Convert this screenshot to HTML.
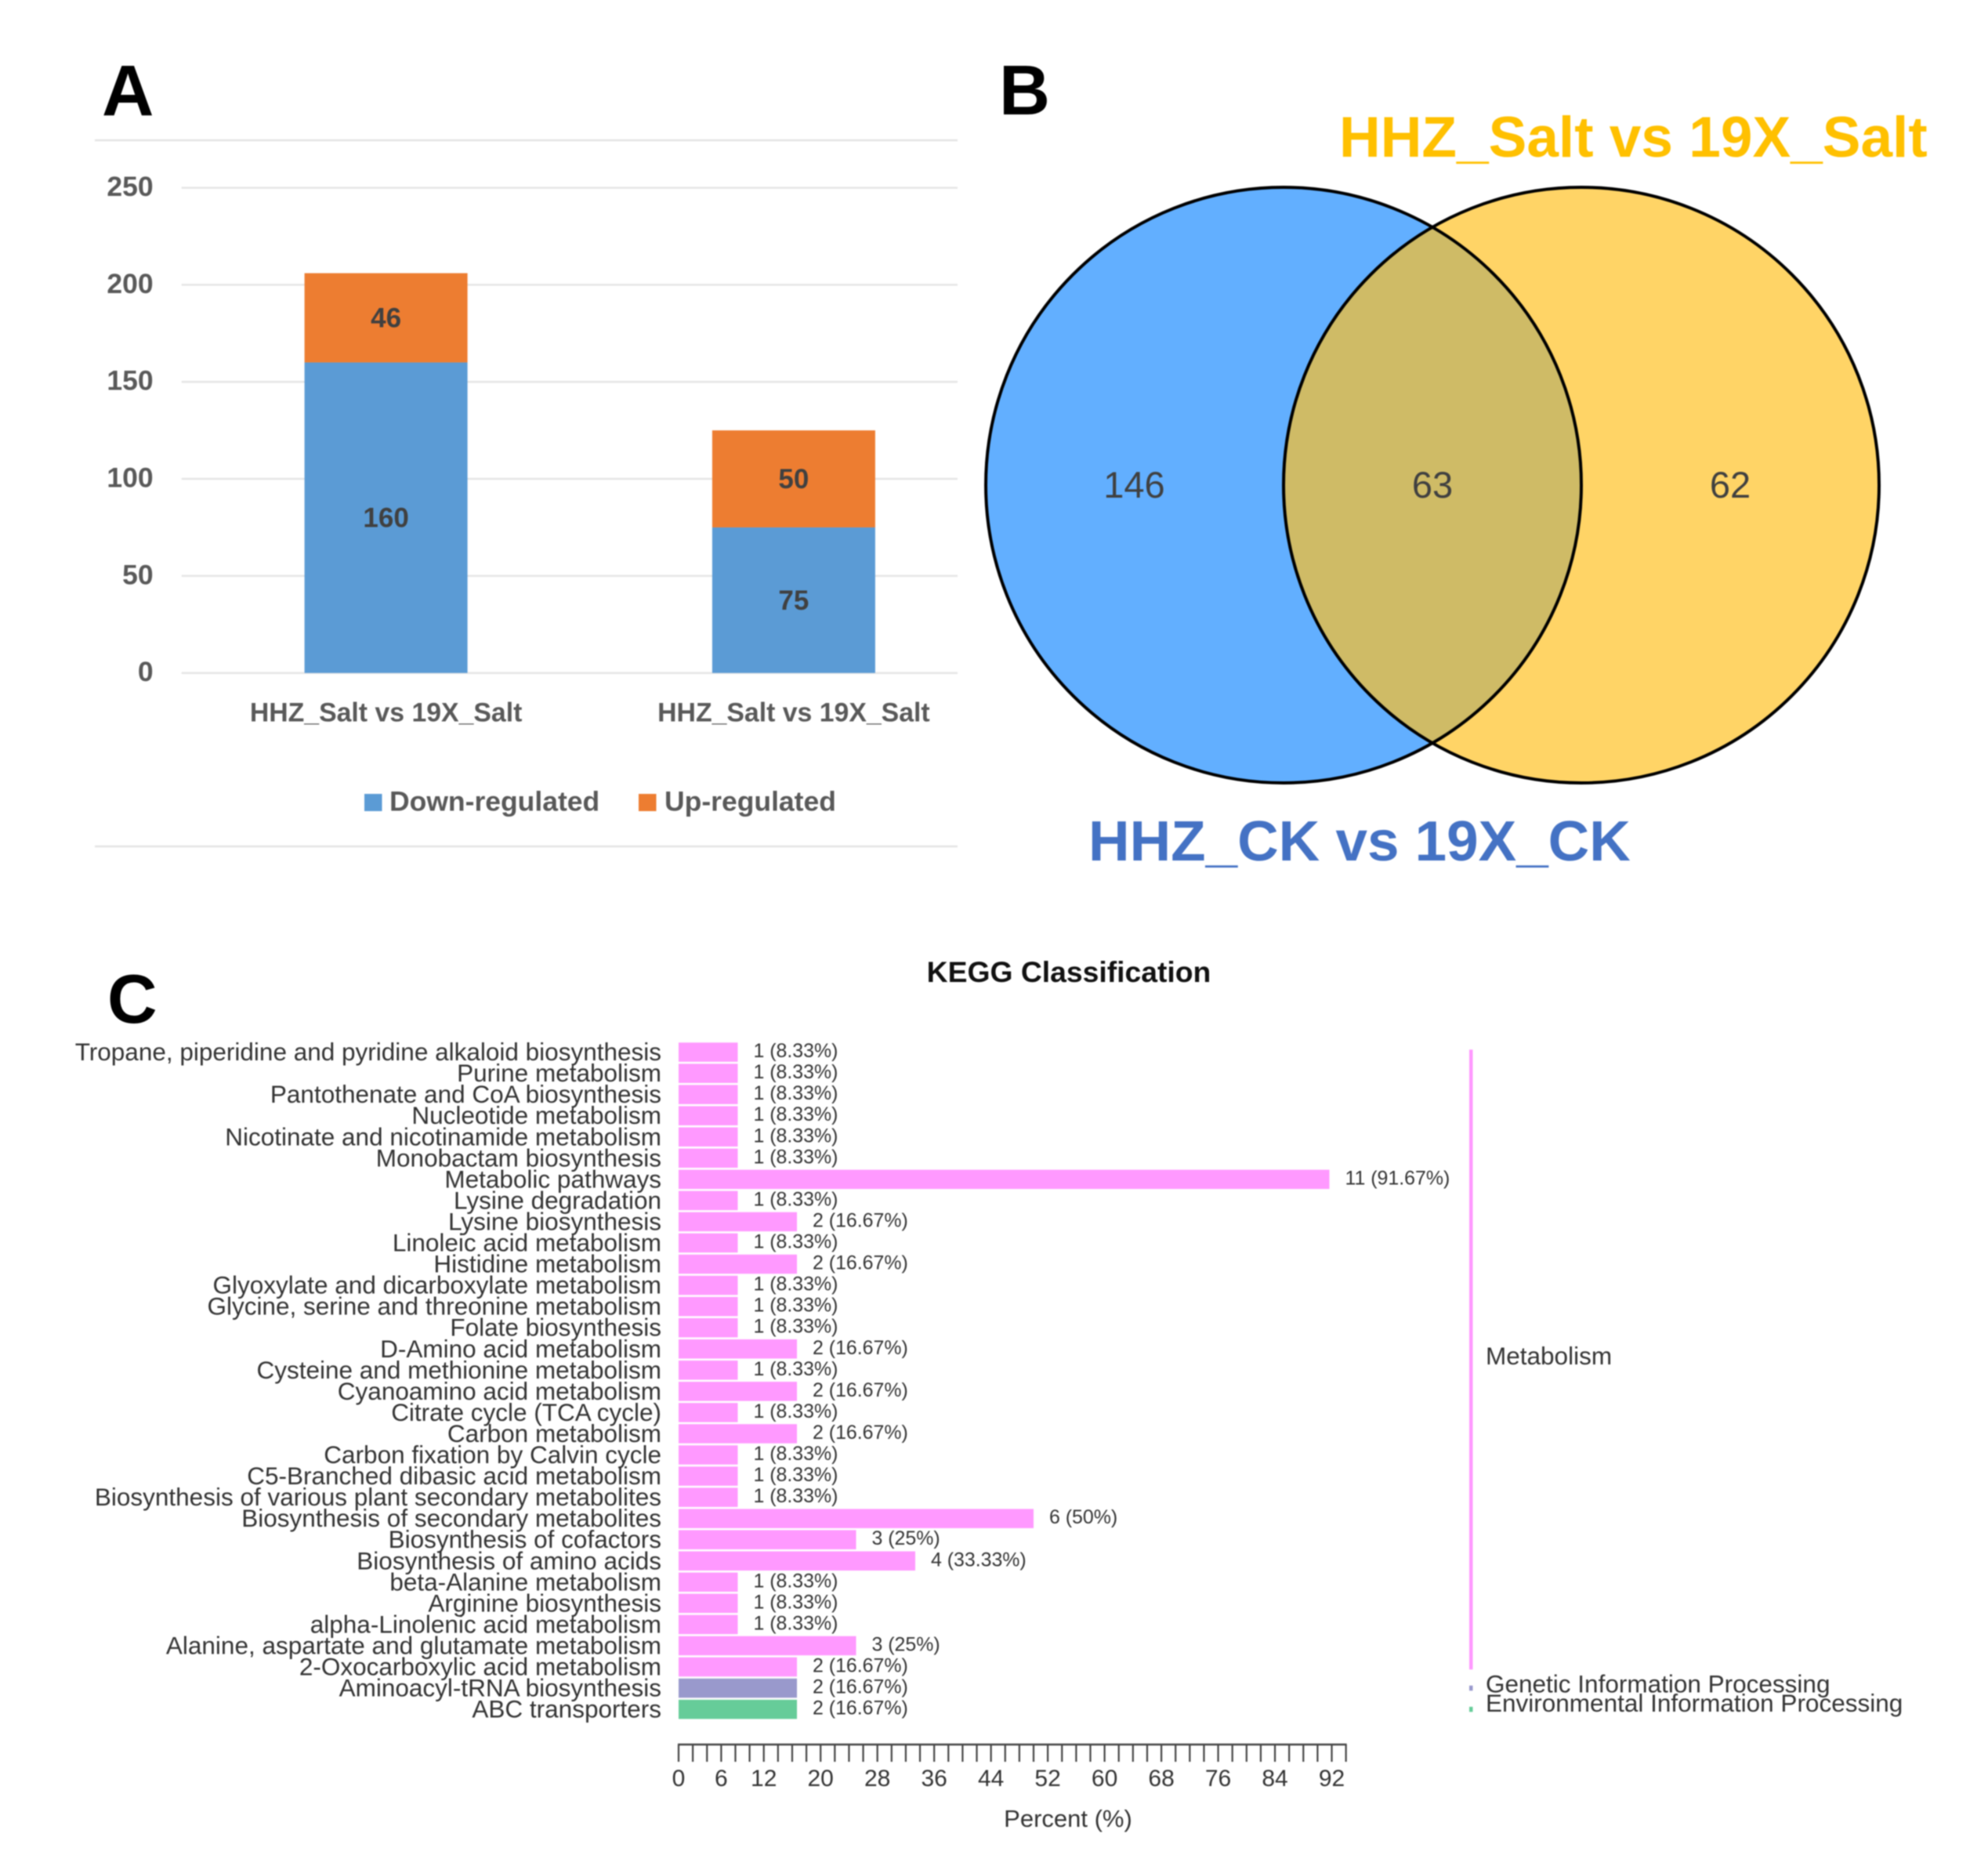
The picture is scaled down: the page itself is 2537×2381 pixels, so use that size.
<!DOCTYPE html>
<html lang="en">
<head>
<meta charset="utf-8">
<title>Panels A, B and C: DEG counts, Venn diagram and KEGG classification</title>
<style>
  html, body { margin: 0; padding: 0; background: #fff; }
  #figure { display: block; filter: blur(0.85px); font-family: "Liberation Sans", sans-serif; }
</style>
</head>
<body>
<svg id="figure" xmlns="http://www.w3.org/2000/svg" width="2537" height="2381" viewBox="0 0 2537 2381">
  <rect x="0" y="0" width="2537" height="2381" fill="#ffffff"/>

  <text x="130" y="147" font-size="92" font-weight="bold" fill="#000">A</text>
  <text x="1275" y="146" font-size="90" font-weight="bold" fill="#000">B</text>
  <text x="137" y="1305" font-size="88" font-weight="bold" fill="#000">C</text>

  <g id="chart-a">
    <line x1="121" y1="179" x2="1222" y2="179" stroke="#e4e4e4" stroke-width="2.5"/>
    <line x1="121" y1="1080" x2="1222" y2="1080" stroke="#e4e4e4" stroke-width="2.5"/>
  </g>

  <g id="chart-b">
    <circle cx="1638" cy="619" r="380" fill="#62afff"/>
    <circle cx="2018" cy="619" r="380" fill="#ffd466"/>
    <path d="M1828 289.9 A380 380 0 0 1 1828 948.1 A380 380 0 0 1 1828 289.9 Z" fill="#cfbb66"/>
    <circle cx="1638" cy="619" r="380" fill="none" stroke="#000" stroke-width="4"/>
    <circle cx="2018" cy="619" r="380" fill="none" stroke="#000" stroke-width="4"/>
    <text x="1447.5" y="635" font-size="47" text-anchor="middle" fill="#404040">146</text>
    <text x="1828" y="635" font-size="47" text-anchor="middle" fill="#404040">63</text>
    <text x="2208" y="635" font-size="47" text-anchor="middle" fill="#404040">62</text>
    <text x="1709" y="200" font-size="73" font-weight="bold" fill="#ffc000">HHZ_Salt vs 19X_Salt</text>
    <text x="1389" y="1098" font-size="72.8" font-weight="bold" fill="#4472c4">HHZ_CK vs 19X_CK</text>
  </g>

  <g id="chart-c">
    <text x="1364" y="1253" font-size="37.3" font-weight="bold" text-anchor="middle" fill="#111">KEGG Classification</text>
    <text x="1363" y="2331" font-size="31" text-anchor="middle" fill="#333">Percent (%)</text>
  </g>
</svg>

<script>
// ---------- Panel A data ----------
const stackCategories = ['HHZ_Salt vs 19X_Salt', 'HHZ_Salt vs 19X_Salt'];
const downRegulated = [160, 75];
const upRegulated = [46, 50];
const stackTicks = [0, 50, 100, 150, 200, 250];

// ---------- Panel C data ----------
const keggCategories = [
  'Tropane, piperidine and pyridine alkaloid biosynthesis',
  'Purine metabolism',
  'Pantothenate and CoA biosynthesis',
  'Nucleotide metabolism',
  'Nicotinate and nicotinamide metabolism',
  'Monobactam biosynthesis',
  'Metabolic pathways',
  'Lysine degradation',
  'Lysine biosynthesis',
  'Linoleic acid metabolism',
  'Histidine metabolism',
  'Glyoxylate and dicarboxylate metabolism',
  'Glycine, serine and threonine metabolism',
  'Folate biosynthesis',
  'D-Amino acid metabolism',
  'Cysteine and methionine metabolism',
  'Cyanoamino acid metabolism',
  'Citrate cycle (TCA cycle)',
  'Carbon metabolism',
  'Carbon fixation by Calvin cycle',
  'C5-Branched dibasic acid metabolism',
  'Biosynthesis of various plant secondary metabolites',
  'Biosynthesis of secondary metabolites',
  'Biosynthesis of cofactors',
  'Biosynthesis of amino acids',
  'beta-Alanine metabolism',
  'Arginine biosynthesis',
  'alpha-Linolenic acid metabolism',
  'Alanine, aspartate and glutamate metabolism',
  '2-Oxocarboxylic acid metabolism',
  'Aminoacyl-tRNA biosynthesis',
  'ABC transporters'
];
const keggCounts = [1,1,1,1,1,1,11,1,2,1,2,1,1,1,2,1,2,1,2,1,1,1,6,3,4,1,1,1,3,2,2,2];
const keggPercents = [8.33,8.33,8.33,8.33,8.33,8.33,91.67,8.33,16.67,8.33,16.67,8.33,8.33,8.33,16.67,8.33,16.67,8.33,16.67,8.33,8.33,8.33,50,25,33.33,8.33,8.33,8.33,25,16.67,16.67,16.67];
const keggGroupIndex = [0,0,0,0,0,0,0,0,0,0,0,0,0,0,0,0,0,0,0,0,0,0,0,0,0,0,0,0,0,0,1,2];
const keggGroups = ['Metabolism', 'Genetic Information Processing', 'Environmental Information Processing'];
const keggGroupColors = ['#ff99ff', '#9999cc', '#66cc99'];
const keggTickLabels = [0, 6, 12, 20, 28, 36, 44, 52, 60, 68, 76, 84, 92];
const keggAxisMax = 94;
const keggTickStep = 2;

const NS = 'http://www.w3.org/2000/svg';
function make(tag, parent, attrs, content) {
  const node = document.createElementNS(NS, tag);
  for (const key in attrs) node.setAttribute(key, attrs[key]);
  if (content !== undefined) node.textContent = content;
  parent.appendChild(node);
  return node;
}

// ---------- Panel A ----------
(function () {
  const g = document.getElementById('chart-a');
  const y = v => 858.7 - v * (858.7 - 239.6) / 250;
  const cx = i => 492.6 + i * 520.3;
  const barW = 208;
  const grey = '#595959';

  stackTicks.forEach(t => {
    const grid = make('line', g, { x1: 231.6, x2: 1222, y1: y(t), y2: y(t), stroke: '#e6e6e6', 'stroke-width': 2.5 });
    
    
    const label = make('text', g, { x: 195.6, y: y(t) + 10.5, 'font-size': 35.5, 'font-weight': 'bold', 'text-anchor': 'end', fill: grey }, String(t));
    
    
  });

  stackCategories.forEach((cat, i) => {
    const down = make('rect', g, { x: cx(i) - barW / 2, y: y(downRegulated[i]), width: barW, height: y(0) - y(downRegulated[i]), fill: '#5b9bd5' });
    
    
    const total = downRegulated[i] + upRegulated[i];
    const up = make('rect', g, { x: cx(i) - barW / 2, y: y(total), width: barW, height: y(downRegulated[i]) - y(total), fill: '#ed7d31' });
    
    
    const downText = make('text', g, { x: cx(i), y: y(downRegulated[i] / 2) + 12, 'font-size': 35, 'font-weight': 'bold', 'text-anchor': 'middle', fill: '#404040' }, String(downRegulated[i]));
    
    
    const upText = make('text', g, { x: cx(i), y: y(downRegulated[i] + upRegulated[i] / 2) + 12, 'font-size': 35, 'font-weight': 'bold', 'text-anchor': 'middle', fill: '#404040' }, String(upRegulated[i]));
    
    
    const catText = make('text', g, { x: cx(i), y: 920.5, 'font-size': 33.8, 'font-weight': 'bold', 'text-anchor': 'middle', fill: grey }, cat);
    
    
  });

  const swatchDown = make('rect', g, { x: 465, y: 1013, width: 22.5, height: 22, fill: '#5b9bd5' });
  
  
  const legendDown = make('text', g, { x: 497, y: 1034.5, 'font-size': 35.5, 'font-weight': 'bold', fill: grey }, 'Down-regulated');
  
  
  const swatchUp = make('rect', g, { x: 815, y: 1013, width: 22.5, height: 22, fill: '#ed7d31' });
  
  
  const legendUp = make('text', g, { x: 848, y: 1034.5, 'font-size': 35.5, 'font-weight': 'bold', fill: grey }, 'Up-regulated');
  
  
})();

// ---------- Panel C ----------
(function () {
  const g = document.getElementById('chart-c');
  const x = v => 866 + v * 9.06;
  const rowTop = i => 1330.3 + i * 27.05;
  const barH = 24.5;
  const textColor = '#333';

  keggCategories.forEach((cat, i) => {
    const label = make('text', g, { x: 844, y: rowTop(i) + barH / 2 + 10.5, 'font-size': 31.5, 'text-anchor': 'end', fill: textColor }, cat);
    
    
    const bar = make('rect', g, { x: x(0), y: rowTop(i), width: x(keggPercents[i]) - x(0), height: barH, fill: keggGroupColors[keggGroupIndex[i]] });
    
    
    const value = make('text', g, { x: x(keggPercents[i]) + 20, y: rowTop(i) + barH / 2 + 6.5, 'font-size': 24.9, fill: textColor }, keggCounts[i] + ' (' + keggPercents[i] + '%)');
    
    
  });

  const axisY = 2226;
  const axis = make('line', g, { x1: x(0) - 1, x2: x(keggAxisMax) + 1, y1: axisY, y2: axisY, stroke: '#444', 'stroke-width': 2.5 });
  
  
  for (let t = 0; t <= keggAxisMax; t += keggTickStep) {
    const tick = make('line', g, { x1: x(t), x2: x(t), y1: axisY, y2: axisY + 22, stroke: '#444', 'stroke-width': 2.2 });
    
    
  }
  keggTickLabels.forEach(t => {
    const label = make('text', g, { x: x(t), y: 2279, 'font-size': 30, 'text-anchor': 'middle', fill: textColor }, String(t));
    
    
  });

  // Group brackets span the rows belonging to each group.
  const bracketX = 1875;
  const bracketW = 4.5;
  const labelNudge = [6, 5.5, 3];
  keggGroups.forEach((name, gi) => {
    const rows = keggGroupIndex.map((v, i) => v === gi ? i : -1).filter(i => i >= 0);
    const top = rowTop(rows[0]) + 9;
    const bottom = rowTop(rows[rows.length - 1]) + barH - 9;
    const bracket = make('rect', g, { x: bracketX, y: top, width: bracketW, height: bottom - top, fill: keggGroupColors[gi] });
    
    
    const label = make('text', g, { x: 1896, y: (top + bottom) / 2 + labelNudge[gi], 'font-size': 31.5, fill: textColor }, name);
    
    
  });
})();
</script>
</body>
</html>
